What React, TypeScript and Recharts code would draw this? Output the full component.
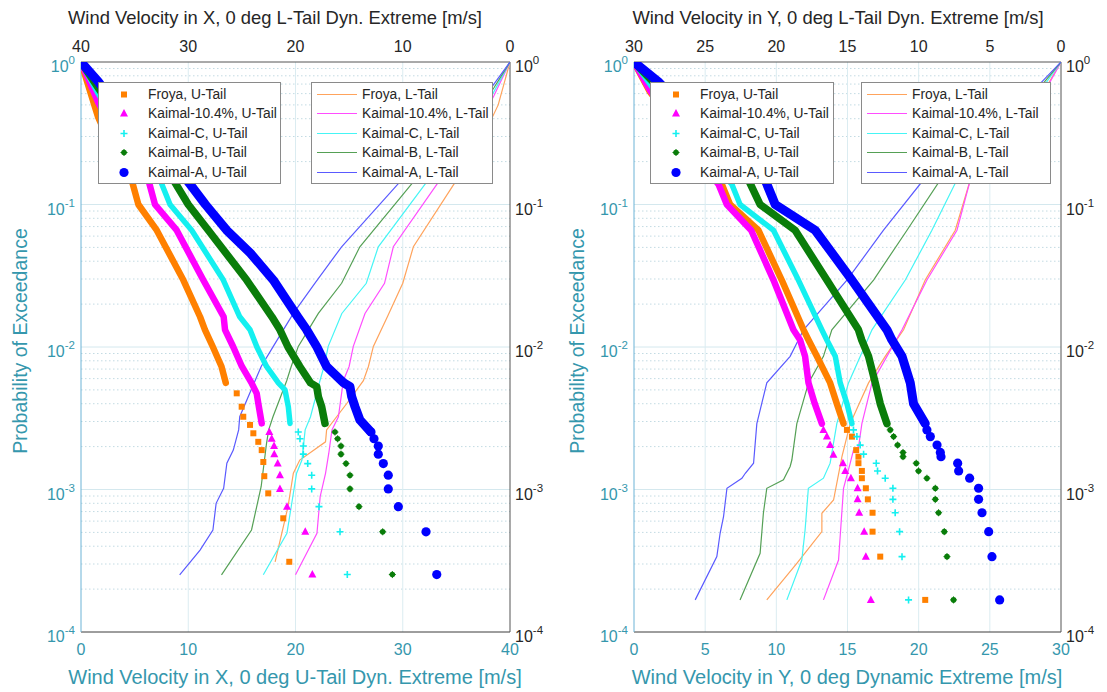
import React from "react";
import { ScatterChart, Scatter, XAxis, YAxis, ReferenceLine } from "recharts";

type Pt = [number, number];

const FONT = '"Liberation Sans", Arial, Helvetica, sans-serif';
const TEAL = "#3597ad";
const INK = "#262626";

const PROB_TICKS = [0.0001, 0.001, 0.01, 0.1, 1];
const MINOR_STEPS = [2, 3, 4, 5, 6, 7, 8, 9];
const LEFT_X_TICKS = [0, 10, 20, 30, 40];
const RIGHT_X_TICKS = [0, 5, 10, 15, 20, 25, 30];

const NAMES = ["Froya", "Kaimal-10.4%", "Kaimal-C", "Kaimal-B", "Kaimal-A"];

// ---- left panel: wind in X. U-tail = [bottom m/s, prob], L-tail = [top m/s, prob]
const lFroyaUBand: Pt[] = [[0, 1], [1.6, 0.41], [3.2, 0.22], [4.72, 0.149], [5.35, 0.1], [7.06, 0.066], [9.54, 0.0295], [11.1, 0.0163], [11.56, 0.0132], [12.3, 0.01], [13.1, 0.0073], [13.5, 0.0056]];
const lFroyaUTail: Pt[] = [[14.52, 0.00473], [14.98, 0.00381], [15.13, 0.00324], [15.76, 0.00284], [16.07, 0.00248], [16.53, 0.00216], [16.85, 0.00189], [17.0, 0.00156], [17.09, 0.00124], [17.46, 0.00094], [18.86, 0.000628], [19.42, 0.000311]];
const lK104UBand: Pt[] = [[0, 1], [1.6, 0.52], [4, 0.24], [6.28, 0.149], [6.9, 0.1], [8.92, 0.066], [11.4, 0.0295], [13.3, 0.0163], [13.43, 0.0132], [14.2, 0.01], [15.0, 0.0073], [15.9, 0.0056], [16.38, 0.00473], [16.53, 0.00403], [16.69, 0.00342], [16.85, 0.00291]];
const lK104UTail: Pt[] = [[17.56, 0.00253], [17.78, 0.00227], [18.0, 0.00202], [18.02, 0.00177], [18.34, 0.00152], [18.55, 0.00126], [18.55, 0.00101], [19.21, 0.000758], [20.91, 0.000505], [21.57, 0.000253]];
const lKCUBand: Pt[] = [[0, 1], [1.6, 0.6], [4.5, 0.26], [7.37, 0.149], [8.3, 0.1], [10.32, 0.066], [13.27, 0.0295], [14.8, 0.0163], [15.76, 0.0132], [16.4, 0.01], [17.3, 0.0073], [18.4, 0.0056], [19.02, 0.005], [19.33, 0.00381], [19.49, 0.00291]];
const lKCUTail: Pt[] = [[20.26, 0.00253], [20.42, 0.00227], [20.73, 0.00202], [20.73, 0.00177], [21.14, 0.00152], [21.51, 0.00126], [21.51, 0.00101], [22.19, 0.000758], [24.15, 0.000505], [24.83, 0.000253]];
const lKBUBand: Pt[] = [[0, 1], [1.6, 0.66], [5, 0.28], [8.61, 0.149], [10.0, 0.1], [11.87, 0.066], [15.45, 0.0295], [17.8, 0.0163], [18.55, 0.0132], [19.3, 0.01], [20.4, 0.0073], [21.4, 0.0056], [21.98, 0.00527], [22.13, 0.00448], [22.44, 0.00381], [22.75, 0.00291]];
const lKBUTail: Pt[] = [[23.68, 0.00253], [23.93, 0.00227], [24.24, 0.00202], [24.24, 0.00177], [24.71, 0.00152], [25.08, 0.00126], [25.08, 0.00101], [25.92, 0.000758], [28.13, 0.000505], [29.03, 0.000253]];
const lKAUBand: Pt[] = [[0, 1], [1.6, 0.73], [5, 0.33], [9.85, 0.149], [11.6, 0.1], [13.58, 0.066], [15.8, 0.0455], [17.93, 0.0295], [20.2, 0.0163], [21.04, 0.0132], [22.0, 0.01], [22.9, 0.0073], [24.5, 0.0056], [25.08, 0.00527], [25.24, 0.00448], [25.55, 0.00381], [26.01, 0.00307], [26.95, 0.00257]];
const lKAUTail: Pt[] = [[27.04, 0.00253], [27.32, 0.00227], [27.72, 0.00202], [27.72, 0.00177], [28.19, 0.00152], [28.65, 0.00126], [28.65, 0.00101], [29.59, 0.000758], [32.17, 0.000505], [33.17, 0.000253]];

const lFroyaL: Pt[] = [[0, 1], [1.1, 0.5], [3, 0.25], [4.97, 0.149], [9.01, 0.0505], [10.0, 0.028], [11.4, 0.0165], [12.74, 0.0101], [13.2, 0.0073], [13.67, 0.0058], [15.2, 0.00403], [17.1, 0.00262], [17.2, 0.00216], [19.6, 0.00161], [20.2, 0.0013], [20.7, 0.000757], [21.9, 0.000311]];
const lK104L: Pt[] = [[0, 1], [1.5, 0.58], [3.5, 0.3], [6.53, 0.149], [10.88, 0.0505], [11.7, 0.028], [13.52, 0.0172], [14.61, 0.0101], [15.0, 0.0073], [15.54, 0.0058], [16.0, 0.00324], [16.6, 0.00262], [16.9, 0.00179], [17.2, 0.0013], [17.7, 0.00089], [18.0, 0.000493], [20.0, 0.000252]];
const lKCL: Pt[] = [[0, 1], [1.5, 0.62], [4, 0.3], [7.62, 0.149], [12.28, 0.0505], [13.4, 0.028], [15.68, 0.0172], [16.95, 0.0101], [17.3, 0.0075], [17.72, 0.0058], [18.6, 0.00324], [19.1, 0.00262], [19.4, 0.00161], [19.9, 0.0013], [20.4, 0.000757], [20.8, 0.000493], [23.0, 0.000252]];
const lKBL: Pt[] = [[0, 1], [1.5, 0.66], [4.5, 0.3], [8.86, 0.149], [14.0, 0.0505], [15.7, 0.028], [17.87, 0.0172], [19.74, 0.0101], [20.4, 0.0073], [20.82, 0.0058], [22.1, 0.00324], [22.5, 0.00262], [22.7, 0.00211], [23.2, 0.00105], [24.1, 0.00052], [26.9, 0.000252]];
const lKAL: Pt[] = [[0, 1], [1.5, 0.7], [5, 0.32], [10.1, 0.149], [15.7, 0.0505], [18.2, 0.028], [20.2, 0.0172], [22.07, 0.0101], [23.2, 0.0073], [23.77, 0.0058], [25.2, 0.00324], [25.3, 0.00262], [25.8, 0.00189], [26.4, 0.00153], [26.7, 0.00102], [27.4, 0.0008], [27.7, 0.00052], [28.9, 0.000376], [30.8, 0.000252]];

// ---- right panel: wind in Y
const rFroyaUBand: Pt[] = [[0, 1], [1.1, 0.62], [3.5, 0.3], [6.17, 0.139], [6.75, 0.1], [8.74, 0.066], [10.38, 0.0295], [11.91, 0.0132], [12.26, 0.0112], [12.85, 0.0086], [13.78, 0.0056], [14.25, 0.004], [14.72, 0.0029]];
const rFroyaUTail: Pt[] = [[14.96, 0.00262], [15.31, 0.00235], [15.61, 0.00189], [15.77, 0.0017], [15.77, 0.00153], [16.01, 0.00135], [16.01, 0.0012], [16.29, 0.00102], [16.43, 0.000853], [16.76, 0.000687], [16.76, 0.000506], [17.3, 0.000338], [20.46, 0.000168]];
const rK104UBand: Pt[] = [[0, 1], [1.1, 0.64], [3.3, 0.3], [5.93, 0.139], [6.52, 0.1], [8.23, 0.066], [9.8, 0.0295], [11.2, 0.0132], [11.67, 0.0112], [12.02, 0.0086], [12.26, 0.0056], [12.7, 0.004], [13.2, 0.0029]];
const rK104UTail: Pt[] = [[13.31, 0.00262], [13.55, 0.00235], [13.78, 0.00205], [14.01, 0.00175], [14.68, 0.00153], [14.84, 0.00135], [15.24, 0.0012], [15.71, 0.00102], [15.71, 0.000853], [15.82, 0.000687], [16.17, 0.000506], [16.29, 0.000338], [16.64, 0.000168]];
const rKCUBand: Pt[] = [[0, 1], [1.3, 0.66], [3.8, 0.3], [6.87, 0.139], [7.45, 0.1], [9.8, 0.066], [11.55, 0.0295], [13.2, 0.0132], [13.55, 0.0112], [14.14, 0.0086], [14.49, 0.0056], [14.96, 0.004], [15.31, 0.0029]];
const rKCUTail: Pt[] = [[15.42, 0.00262], [15.66, 0.00235], [15.89, 0.00205], [16.13, 0.00177], [17.02, 0.00153], [17.11, 0.00135], [17.65, 0.0012], [18.19, 0.00102], [18.19, 0.000853], [18.35, 0.000687], [18.66, 0.000506], [18.83, 0.000338], [19.29, 0.000168]];
const rKBUBand: Pt[] = [[0, 1], [1.5, 0.7], [4.3, 0.32], [8.04, 0.149], [8.86, 0.1], [11.32, 0.066], [13.55, 0.0295], [15.77, 0.0132], [16.0, 0.0112], [16.48, 0.0086], [16.95, 0.0056], [17.3, 0.004], [17.77, 0.0029]];
const rKBUTail: Pt[] = [[18.0, 0.00262], [18.24, 0.00235], [18.52, 0.00205], [18.9, 0.00182], [18.9, 0.0017], [19.83, 0.00153], [19.99, 0.00135], [20.58, 0.0012], [21.17, 0.00102], [21.17, 0.000853], [21.4, 0.000687], [21.8, 0.000506], [21.99, 0.000338], [22.45, 0.000168]];
const rKAUBand: Pt[] = [[0, 1], [1.69, 0.73], [4.8, 0.35], [9.21, 0.149], [9.92, 0.1], [12.73, 0.066], [15.31, 0.0295], [17.77, 0.0132], [18.12, 0.0112], [18.83, 0.0086], [19.41, 0.0056], [19.64, 0.004], [20.46, 0.0029]];
const rKAUTail: Pt[] = [[20.58, 0.00262], [20.82, 0.00235], [21.29, 0.00205], [21.52, 0.00182], [21.57, 0.0017], [22.74, 0.00153], [22.81, 0.00135], [23.58, 0.0012], [24.21, 0.00102], [24.21, 0.000853], [24.45, 0.000687], [24.92, 0.000506], [25.15, 0.000338], [25.69, 0.000168]];

const rFroyaL: Pt[] = [[0, 1], [1.3, 0.6], [3.5, 0.3], [6.37, 0.149], [7.43, 0.066], [9.54, 0.0295], [11.06, 0.0132], [12.35, 0.0086], [13.52, 0.0056], [14.81, 0.0029], [15.04, 0.00235], [15.39, 0.0017], [15.98, 0.000844], [16.8, 0.000681], [16.8, 0.000506], [18.56, 0.000303], [20.67, 0.000168]];
const rK104L: Pt[] = [[0, 1], [1.3, 0.58], [3.5, 0.3], [6.37, 0.149], [7.31, 0.066], [9.42, 0.0295], [11.17, 0.0132], [12.23, 0.0086], [13.28, 0.0056], [13.99, 0.0029], [14.22, 0.002], [14.58, 0.00189], [14.81, 0.00153], [15.28, 0.00102], [15.63, 0.00032], [16.69, 0.000168]];
const rKCL: Pt[] = [[0, 1], [1.5, 0.62], [4, 0.3], [7.31, 0.149], [9.07, 0.066], [10.94, 0.0295], [13.28, 0.0132], [14.1, 0.0086], [14.93, 0.0056], [15.75, 0.0029], [16.22, 0.00153], [16.69, 0.0012], [17.75, 0.00102], [17.98, 0.00052], [18.21, 0.00032], [19.26, 0.000168]];
const rKBL: Pt[] = [[0, 1], [1.5, 0.66], [4.5, 0.3], [8.48, 0.149], [10.82, 0.066], [13.17, 0.0295], [16.1, 0.0132], [16.69, 0.0086], [17.74, 0.0056], [18.56, 0.0029], [18.91, 0.00161], [19.03, 0.00145], [19.5, 0.00117], [20.67, 0.00102], [20.91, 0.000681], [21.14, 0.000357], [22.55, 0.000168]];
const rKAL: Pt[] = [[0, 1], [1.5, 0.7], [5, 0.3], [9.66, 0.149], [12.47, 0.066], [15.04, 0.0295], [18.09, 0.0132], [19.03, 0.0086], [20.67, 0.0056], [21.37, 0.0029], [21.6, 0.00153], [22.18, 0.0013], [22.42, 0.0012], [23.47, 0.00102], [23.71, 0.000644], [23.95, 0.000493], [24.18, 0.000338], [25.7, 0.000168]];

// styles per series, same order as NAMES
const U_COLORS = ["#ff8000", "#ff00ff", "#14f0f0", "#0a7d0a", "#0000ff"];
const L_COLORS = ["#ffa35c", "#ff4dff", "#45f5f5", "#55a055", "#5a5aff"];
const MARKERS = ["square", "triangle", "plus", "star", "dot"];
const BAND_WIDTH = [6.5, 6.5, 5.5, 7.5, 9];

const toXY = (pts: Pt[]) => pts.map(([x, y]) => ({ x, y }));

function drawMarker(kind: string, color: string, cx: number, cy: number) {
  switch (kind) {
    case "square":
      return <rect x={cx - 3} y={cy - 3} width={6} height={6} fill={color} />;
    case "triangle":
      return <path d={`M${cx},${cy - 4.5}L${cx + 4},${cy + 3}L${cx - 4},${cy + 3}Z`} fill={color} />;
    case "plus":
      return <path d={`M${cx - 3.5},${cy}H${cx + 3.5}M${cx},${cy - 3.5}V${cy + 3.5}`} stroke={color} strokeWidth={1.6} />;
    case "star":
      return (
        <g>
          <circle cx={cx} cy={cy} r={2.8} fill={color} />
          <path d={`M${cx - 3.5},${cy}H${cx + 3.5}M${cx},${cy - 3.5}V${cy + 3.5}`} stroke={color} strokeWidth={1} />
        </g>
      );
    default:
      return <circle cx={cx} cy={cy} r={4.6} fill={color} />;
  }
}

const markerShape = (kind: string, color: string) => (props: any) => {
  if (props.cx == null || props.cy == null) return <g />;
  return drawMarker(kind, color, props.cx, props.cy);
};

const NoShape = () => <g />;

function PowTick(props: any) {
  const { x, y, payload, anchor, fill } = props;
  const e = Math.round(Math.log10(payload.value));
  return (
    <text x={x} y={y + 10} textAnchor={anchor} fill={fill} fontSize={16} fontFamily={FONT}>
      10<tspan dy={-8} fontSize={11.5}>{e}</tspan>
    </text>
  );
}

type PanelProps = {
  left: number;
  width: number;
  margin: { top: number; right: number; bottom: number; left: number };
  xMax: number;
  xTicks: number[];
  uBands: Pt[][];
  uTails: Pt[][];
  lLines: Pt[][];
};

function Panel(p: PanelProps) {
  const minors = PROB_TICKS.slice(0, 4).flatMap((d) => MINOR_STEPS.map((m) => +(m * d).toPrecision(3)));
  const innerX = p.xTicks.slice(1, -1);
  return (
    <div style={{ position: "absolute", left: p.left, top: 0 }}>
      <ScatterChart width={p.width} height={692} margin={p.margin}>
        <XAxis xAxisId="bottom" dataKey="x" type="number" domain={[0, p.xMax]} ticks={p.xTicks} height={30}
          orientation="bottom" allowDataOverflow tickLine={false} tickSize={0} tickMargin={12}
          axisLine={{ stroke: "#3c3c3c" }} tick={{ fill: TEAL, fontSize: 16, fontFamily: FONT }} />
        <XAxis xAxisId="top" dataKey="x" type="number" domain={[0, p.xMax]} ticks={p.xTicks} height={30}
          orientation="top" reversed allowDataOverflow tickLine={false} tickSize={0} tickMargin={10}
          axisLine={{ stroke: "#555" }} tick={{ fill: INK, fontSize: 16, fontFamily: FONT }} />
        <YAxis yAxisId="left" dataKey="y" type="number" scale="log" domain={[0.0001, 1]} ticks={PROB_TICKS}
          width={45} allowDataOverflow tickLine={false} tickSize={0} tickMargin={6}
          axisLine={{ stroke: "#6db3d6" }} tick={<PowTick anchor="end" fill={TEAL} />} />
        <YAxis yAxisId="right" orientation="right" dataKey="y" type="number" scale="log" domain={[0.0001, 1]}
          ticks={PROB_TICKS} width={45} allowDataOverflow tickLine={false} tickSize={0} tickMargin={5}
          axisLine={{ stroke: "#555" }} tick={<PowTick anchor="start" fill={INK} />} />

        {minors.map((v) => (
          <ReferenceLine key={"m" + v} xAxisId="bottom" yAxisId="left" y={v} stroke="#c3dbe3" strokeDasharray="1.5 2.5" />
        ))}
        {PROB_TICKS.slice(1, 4).map((v) => (
          <ReferenceLine key={"d" + v} xAxisId="bottom" yAxisId="left" y={v} stroke="#d4e8ee" />
        ))}
        {innerX.map((v) => (
          <ReferenceLine key={"v" + v} xAxisId="bottom" yAxisId="left" x={v} stroke="#dbecf1" />
        ))}

        {p.lLines.map((pts, i) => (
          <Scatter key={"l" + i} xAxisId="top" yAxisId="left" data={toXY(pts)} fill={L_COLORS[i]}
            line={{ strokeWidth: 1.2 }} shape={NoShape} isAnimationActive={false} />
        ))}
        {p.uBands.map((pts, i) => (
          <Scatter key={"b" + i} xAxisId="bottom" yAxisId="left" data={toXY(pts)} fill={U_COLORS[i]}
            line={{ strokeWidth: BAND_WIDTH[i], strokeLinejoin: "round", strokeLinecap: "round" }}
            shape={NoShape} isAnimationActive={false} />
        ))}
        {p.uTails.map((pts, i) => (
          <Scatter key={"t" + i} xAxisId="bottom" yAxisId="left" data={toXY(pts)} fill={U_COLORS[i]}
            shape={markerShape(MARKERS[i], U_COLORS[i])} isAnimationActive={false} />
        ))}
      </ScatterChart>
    </div>
  );
}

function LegendBox({ left, width, tail, lines }: { left: number; width: number; tail: string; lines: boolean }) {
  return (
    <div style={{ position: "absolute", left, top: 82, width, height: 102, boxSizing: "border-box",
      border: "1px solid #8a8a8a", background: "#fff" }}>
      {NAMES.map((n, i) => (
        <div key={n} style={{ position: "absolute", left: 0, top: 1.5 + i * 19.6, height: 19, width: "100%" }}>
          <svg width={50} height={19} style={{ position: "absolute", left: 0, top: 0 }}>
            {lines
              ? <line x1={5} x2={45} y1={9.5} y2={9.5} stroke={L_COLORS[i]} strokeWidth={1.2} />
              : drawMarker(MARKERS[i], U_COLORS[i], 25, 9.5)}
          </svg>
          <span style={{ position: "absolute", left: lines ? 50 : 49, top: 1, fontFamily: FONT, fontSize: 13.8,
            color: INK, whiteSpace: "nowrap", lineHeight: "17px" }}>
            {n}, {tail}
          </span>
        </div>
      ))}
    </div>
  );
}

export default function App() {
  return (
    <div style={{ position: "absolute", left: 0, top: 0, width: 1107, height: 692, background: "#fff", overflow: "hidden" }}>
      <Panel left={0} width={560} margin={{ top: 32, right: 5, bottom: 30, left: 36 }} xMax={40} xTicks={LEFT_X_TICKS}
        uBands={[lFroyaUBand, lK104UBand, lKCUBand, lKBUBand, lKAUBand]}
        uTails={[lFroyaUTail, lK104UTail, lKCUTail, lKBUTail, lKAUTail]}
        lLines={[lFroyaL, lK104L, lKCL, lKBL, lKAL]} />
      <Panel left={560} width={547} margin={{ top: 32, right: 1, bottom: 30, left: 29 }} xMax={30} xTicks={RIGHT_X_TICKS}
        uBands={[rFroyaUBand, rK104UBand, rKCUBand, rKBUBand, rKAUBand]}
        uTails={[rFroyaUTail, rK104UTail, rKCUTail, rKBUTail, rKAUTail]}
        lLines={[rFroyaL, rK104L, rKCL, rKBL, rKAL]} />

      <svg width={1107} height={692} style={{ position: "absolute", left: 0, top: 0, pointerEvents: "none" }}>
        <g fontFamily={FONT} textAnchor="middle">
          <text x={275} y={23.5} fontSize={18.4} fill={INK}>Wind Velocity in X, 0 deg L-Tail Dyn. Extreme [m/s]</text>
          <text x={838} y={23.5} fontSize={18.4} fill={INK}>Wind Velocity in Y, 0 deg L-Tail Dyn. Extreme [m/s]</text>
          <text x={295} y={684} fontSize={20} fill={TEAL}>Wind Velocity in X, 0 deg U-Tail Dyn. Extreme [m/s]</text>
          <text x={847} y={684} fontSize={20} fill={TEAL}>Wind Velocity in Y, 0 deg Dynamic Extreme [m/s]</text>
          <text transform="translate(27,341) rotate(-90)" fontSize={19.5} fill={TEAL}>Probability of Exceedance</text>
          <text transform="translate(584,341) rotate(-90)" fontSize={19.5} fill={TEAL}>Probability of Exceedance</text>
        </g>
      </svg>

      <LegendBox left={98} width={183} tail="U-Tail" lines={false} />
      <LegendBox left={311} width={182} tail="L-Tail" lines />
      <LegendBox left={650} width={184} tail="U-Tail" lines={false} />
      <LegendBox left={861} width={190} tail="L-Tail" lines />
    </div>
  );
}
